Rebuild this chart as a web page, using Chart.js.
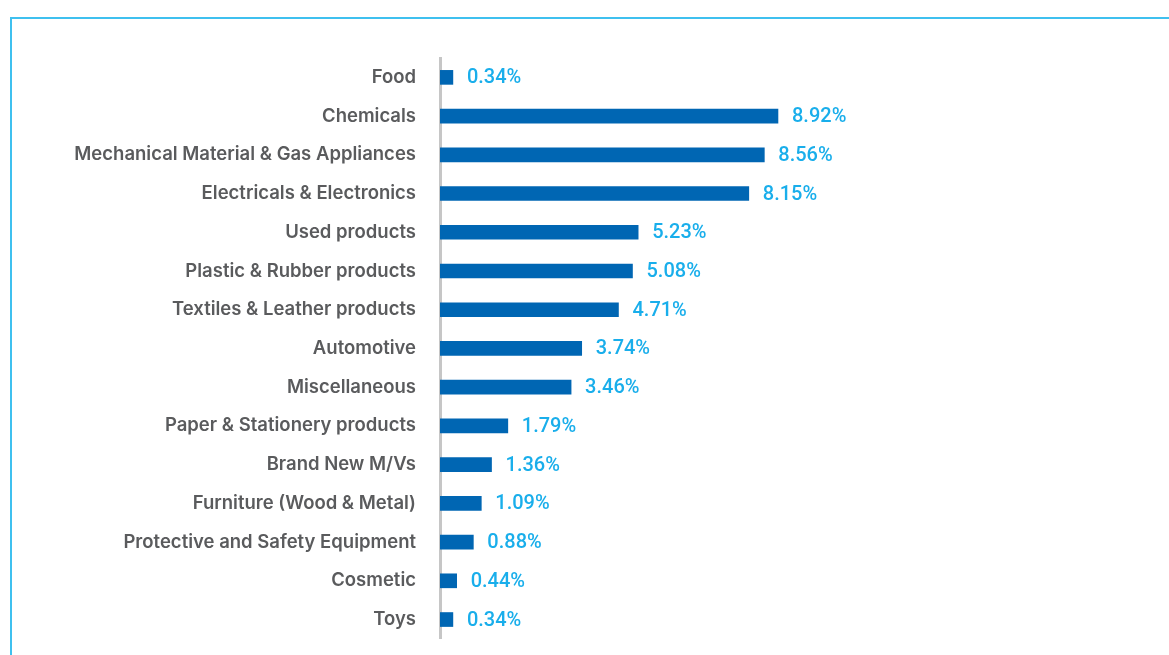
<!DOCTYPE html>
<html>
<head>
<meta charset="utf-8">
<script src="https://cdn.jsdelivr.net/npm/chart.js@4.4.1/dist/chart.umd.min.js"></script>
<style>
  html, body { margin: 0; padding: 0; background: #fff; overflow: hidden; }
  .frame {
    position: absolute; left: 10px; top: 17px; width: 1400px; height: 900px;
    border-top: 2px solid #3fc0ef; border-left: 2px solid #3fc0ef;
  }
  #sectorChart { position: absolute; left: 0; top: 0; }
</style>
</head>
<body>
<div class="frame"></div>
<!-- canvas runs a little past the bottom edge: the tick padding reserves space below the axis -->
<canvas id="sectorChart" width="1169" height="674"></canvas>
<script>
// share by product sector (%)
const sectors = [
  'Food', 'Chemicals', 'Mechanical Material & Gas Appliances', 'Electricals & Electronics',
  'Used products', 'Plastic & Rubber products', 'Textiles & Leather products', 'Automotive',
  'Miscellaneous', 'Paper & Stationery products', 'Brand New M/Vs', 'Furniture (Wood & Metal)',
  'Protective and Safety Equipment', 'Cosmetic', 'Toys'
];
const shares = [0.34, 8.92, 8.56, 8.15, 5.23, 5.08, 4.71, 3.74, 3.46, 1.79, 1.36, 1.09, 0.88, 0.44, 0.34];

// percentage labels next to each bar end
const valueLabels = {
  id: 'valueLabels',
  afterDatasetsDraw(chart) {
    const ctx = chart.ctx;
    const meta = chart.getDatasetMeta(0);
    ctx.save();
    ctx.font = '500 20px Roboto';
    ctx.fillStyle = '#19aeeb';
    ctx.textAlign = 'left';
    ctx.textBaseline = 'middle';
    meta.data.forEach((bar, i) => {
      ctx.fillText(shares[i].toFixed(2) + '%', bar.x + 14, bar.y + 1);
    });
    ctx.restore();
  }
};

const ctx = document.getElementById('sectorChart').getContext('2d');
new Chart(ctx, {
  type: 'bar',
  data: {
    labels: sectors,
    datasets: [{
      data: shares,
      backgroundColor: '#0066b3',
      barThickness: 14
    }]
  },
  options: {
    indexAxis: 'y',
    responsive: false,
    animation: false,
    layout: { padding: { top: 58, bottom: 16, right: 47, left: 0 } },
    plugins: {
      legend: { display: false },
      tooltip: { enabled: false }
    },
    scales: {
      x: {
        display: false,
        min: 0,
        max: 18
      },
      y: {
        afterFit(scale) { scale.width = 440; },
        grid: { display: false, drawTicks: false },
        border: { display: true, color: '#c6c6c6', width: 3 },
        ticks: {
          padding: 24,
          color: '#5a5b5d',
          font: { family: 'Inter', size: 18.5, weight: '600' }
        }
      }
    }
  },
  plugins: [valueLabels]
});
</script>
</body>
</html>
